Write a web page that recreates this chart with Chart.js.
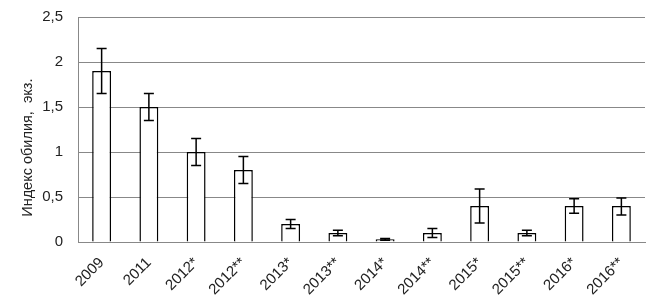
<!DOCTYPE html>
<html>
<head>
<meta charset="utf-8">
<script src="https://cdn.jsdelivr.net/npm/chart.js@4/dist/chart.umd.min.js"></script>
<style>
  html, body { margin: 0; padding: 0; background: #fff; }
  #wrap { width: 658px; height: 302px; overflow: hidden; }
  #chart { display: block; margin-top: -7px; }
</style>
</head>
<body>
<div id="wrap"><canvas id="chart" width="658" height="309"></canvas></div>
<script>
const labels = ["2009", "2011", "2012*", "2012**", "2013*", "2013**", "2014*", "2014**", "2015*", "2015**", "2016*", "2016**"];
const means = [1.9, 1.5, 1.0, 0.8, 0.2, 0.1, 0.03, 0.1, 0.4, 0.1, 0.4, 0.4];
const errLow = [1.65, 1.35, 0.85, 0.65, 0.15, 0.07, 0.02, 0.05, 0.21, 0.07, 0.32, 0.3];
const errHigh = [2.15, 1.65, 1.15, 0.95, 0.25, 0.13, 0.04, 0.15, 0.59, 0.13, 0.48, 0.49];
const yTicks = [0, 0.5, 1, 1.5, 2, 2.5];

// error bars drawn on top of bars
const errorBars = {
  id: "errorBars",
  afterDatasetsDraw(chart) {
    const ctx = chart.ctx;
    const y = chart.scales.y;
    const meta = chart.getDatasetMeta(0);
    ctx.save();
    ctx.strokeStyle = "#000";
    ctx.lineWidth = 1.5;
    meta.data.forEach((bar, i) => {
      const x = bar.x;
      const top = y.getPixelForValue(errHigh[i]);
      const bot = y.getPixelForValue(errLow[i]);
      ctx.beginPath();
      ctx.moveTo(x, top); ctx.lineTo(x, bot);
      ctx.moveTo(x - 5, top); ctx.lineTo(x + 5, top);
      ctx.moveTo(x - 5, bot); ctx.lineTo(x + 5, bot);
      ctx.stroke();
    });
    ctx.restore();
  }
};

new Chart(document.getElementById("chart"), {
  type: "bar",
  data: {
    labels,
    datasets: [{
      data: means,
      backgroundColor: "#fff",
      borderColor: "#000",
      borderWidth: 1.5,
      categoryPercentage: 1,
      barPercentage: 0.4
    }]
  },
  options: {
    responsive: false,
    animation: false,
    layout: { padding: { top: 0, right: 13, left: 0, bottom: 0 } },
    plugins: { legend: { display: false }, tooltip: { enabled: false } },
    scales: {
      x: {
        grid: { display: false },
        border: { color: "#888" },
        ticks: {
          color: "#222",
          font: { family: "Liberation Sans, Arial", size: 15 },
          minRotation: 45, maxRotation: 45, padding: 4
        },
        afterFit(scale) { scale.height = 60; }
      },
      y: {
        min: 0, max: 2.5,
        afterBuildTicks(scale) { scale.ticks = yTicks.map(v => ({ value: v })); },
        grid: { color: "#888", drawTicks: false },
        border: { color: "#888" },
        ticks: {
          color: "#222",
          padding: 15,
          font: { family: "Liberation Sans, Arial", size: 15 },
          callback: v => String(v).replace(".", ",")
        },
        title: {
          display: true,
          text: "Индекс обилия,  экз.         ",
          color: "#222",
          font: { family: "Liberation Sans, Arial", size: 14.5 },
          padding: { top: 19, bottom: 0 }
        },
        afterFit(scale) { scale.width = 78; }
      }
    }
  },
  plugins: [errorBars]
});
</script>
</body>
</html>
